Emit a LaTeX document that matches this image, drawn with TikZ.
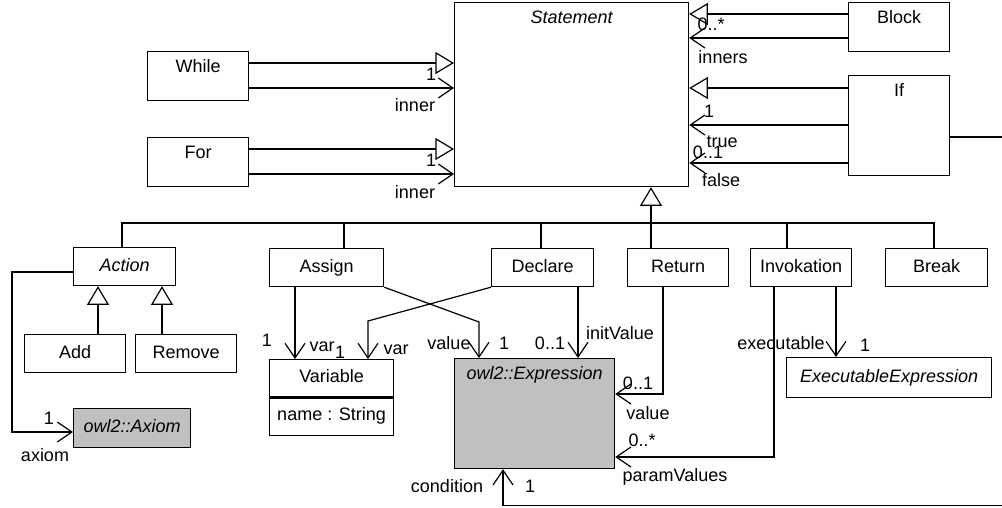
\documentclass[tikz,border=0pt]{standalone}
\usepackage{fontspec}
\setmainfont{Liberation Sans}
\usepackage{tikz}
\usetikzlibrary{arrows.meta}
\definecolor{extgray}{HTML}{C0C0C0}
\newcommand{\umlfont}{\fontsize{13.5}{16}\selectfont}
\tikzset{
  cls/.style={draw, line width=0.9pt, fill=white, anchor=north west, inner sep=0pt,
    minimum width=75.75pt, minimum height=28.5pt, text height=9.7pt, text depth=3pt, font=\umlfont},
  extcls/.style={cls, fill=extgray, font=\umlfont\itshape},
  ttl/.style={anchor=north, inner sep=0pt, yshift=-6pt, text height=9.7pt, text depth=3pt, font=\umlfont},
  line/.style={draw, line width=0.9pt},
  gen/.style={line, -{Triangle[open, length=14pt, width=16.5pt]}},
  assoc/.style={line, -{Straight Barb[length=11pt, width=15pt]}},
  mult/.style={font=\umlfont, inner sep=0pt}
}

\begin{document}
\begin{tikzpicture}[x=0.75pt, y=-0.75pt]
  \useasboundingbox (0,0) rectangle (1002,507);

  % classes
  \node[cls, minimum width=175.5pt, minimum height=138pt,
    label={[ttl, name=stmtT, font=\umlfont\itshape]north:Statement}] (stmt) at (454,2) {};
  \node[cls, minimum height=36.75pt, label={[ttl, name=blkT]north:Block}] (blk) at (848,2) {};
  \node[cls, minimum height=75pt, label={[ttl, name=iffT]north:If}] (iff) at (848,75) {};
  \node[cls, minimum height=36.75pt, label={[ttl, name=whlT]north:While}] (whl) at (147,51) {};
  \node[cls, minimum height=36.75pt, label={[ttl, name=forlT]north:For}] (forl) at (147,137) {};

  \node[cls, minimum width=76.5pt, font=\umlfont\itshape] (action) at (73,247) {Action};
  \node[cls, minimum width=85.5pt] (assign) at (269,248) {Assign};
  \node[cls, minimum width=76.5pt] (declare) at (491,248) {Declare};
  \node[cls] (ret) at (627,248) {Return};
  \node[cls] (invk) at (750,248) {Invokation};
  \node[cls, minimum width=76.5pt] (brk) at (885,248) {Break};
  \node[cls] (add) at (24,334) {Add};
  \node[cls] (rem) at (135,334) {Remove};

  \node[extcls, minimum width=87.75pt, minimum height=29.25pt] (axiom) at (73,408) {owl2::Axiom};
  \node[cls, minimum width=93pt, minimum height=27.75pt] (var) at (269,359) {Variable};
  \node[cls, minimum width=93pt, minimum height=29.25pt] (varattr) at (269,396) {name : String};
  \draw[line width=2pt] (var.south west) -- (var.south east);
  \node[extcls, minimum width=120pt, minimum height=82.5pt,
    label={[ttl, name=exprT, font=\umlfont\itshape]north:owl2::Expression}] (expr) at (454,358) {};
  \node[cls, minimum width=153.75pt, minimum height=30pt, font=\umlfont\itshape] (exec) at (786,357) {ExecutableExpression};

  % generalisations
  \draw[gen] (whl.east |- 0,63) -- (stmt.west |- 0,63);
  \draw[gen] (forl.east |- 0,149) -- (stmt.west |- 0,149);
  \draw[gen] (blk.west |- 0,14) -- (stmt.east |- 0,14);
  \draw[gen] (iff.west |- 0,88) -- (stmt.east |- 0,88);

  \coordinate (hub) at (651,223);
  \foreach \n/\x in {action/122, assign/344, declare/541, ret/651, invk/787, brk/934}
    \draw[line] (\x,0 |- \n.north) |- (hub);
  \draw[gen] (hub) -- (651,0 |- stmt.south);

  \draw[gen] (98,0 |- add.north) -- (98,0 |- action.south);
  \draw[gen] (162,0 |- rem.north) -- (162,0 |- action.south);

  % associations
  \draw[assoc] (whl.east |- 0,88) -- (stmt.west |- 0,88);
  \draw[assoc] (forl.east |- 0,174) -- (stmt.west |- 0,174);
  \draw[assoc] (blk.west |- 0,38) -- (stmt.east |- 0,38);
  \draw[assoc] (iff.west |- 0,125) -- (stmt.east |- 0,125);
  \draw[assoc] (iff.west |- 0,163) -- (stmt.east |- 0,163);

  \draw[assoc] (action.west |- 0,272) -| (12,432) -- (axiom.west |- 0,432);
  \draw[assoc] (295,0 |- assign.south) -- (295,0 |- var.north);
  \draw[assoc] (declare.south west) -- (368,321) -- (368,0 |- var.north);
  \draw[assoc] (assign.south east) -- (479,322) -- (479,0 |- expr.north);
  \draw[assoc] (578,0 |- declare.south) -- (578,0 |- expr.north);
  \draw[assoc] (663,0 |- ret.south) |- (expr.east |- 0,394);
  \draw[assoc] (774,0 |- invk.south) |- (expr.east |- 0,457);
  \draw[assoc] (836,0 |- invk.south) -- (836,0 |- exec.north);
  \coordinate (cR) at (1012,505.5);
  \draw[assoc] (iff.east |- 0,137) -| (cR) -| (503,0 |- expr.south);

  % role names and multiplicities
  \node[mult] (mWhl) at (431,74) {1};
  \node[mult] (rWhl) at (415,105) {inner};
  \node[mult] (mForl) at (431,160) {1};
  \node[mult] (rForl) at (415,192) {inner};
  \node[mult] (mBlk) at (711,24) {0..*};
  \node[mult] (rBlk) at (723,57) {inners};
  \node[mult] (mTrue) at (709,111) {1};
  \node[mult] (rTrue) at (722,142) {true};
  \node[mult] (mFalse) at (708,152) {0..1};
  \node[mult] (rFalse) at (721,180) {false};
  \node[mult] (mAx) at (49,418) {1};
  \node[mult] (rAx) at (45,455) {axiom};
  \node[mult] (mVarA) at (267,340) {1};
  \node[mult] (rVarA) at (322,347) {var};
  \node[mult] (mVarD) at (340,352) {1};
  \node[mult] (rVarD) at (396,350) {var};
  \node[mult] (rVal) at (449,343) {value};
  \node[mult] (mVal) at (504,343) {1};
  \node[mult] (mInit) at (550,343) {0..1};
  \node[mult] (rInit) at (620,333) {initValue};
  \node[mult] (mRet) at (638,383) {0..1};
  \node[mult] (rRet) at (648,413) {value};
  \node[mult] (mPar) at (642,440) {0..*};
  \node[mult] (rPar) at (675,477) {paramValues};
  \node[mult] (rExe) at (781,343) {executable};
  \node[mult] (mExe) at (865,345) {1};
  \node[mult] (rCond) at (447,486) {condition};
  \node[mult] (mCond) at (530,486) {1};
\end{tikzpicture}
\end{document}
